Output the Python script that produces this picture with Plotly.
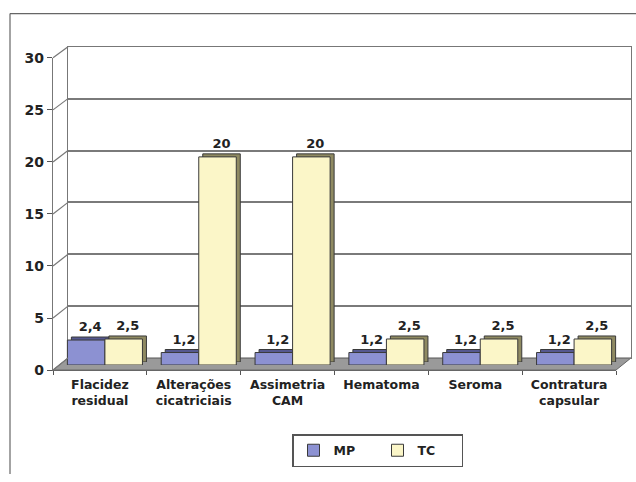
import plotly.graph_objects as go

categories = ["Flacidez<br>residual", "Alterações<br>cicatriciais", "Assimetria<br>CAM",
              "Hematoma", "Seroma", "Contratura<br>capsular"]
mp_values = [2.4, 1.2, 1.2, 1.2, 1.2, 1.2]
tc_values = [2.5, 20, 20, 2.5, 2.5, 2.5]
series_names = ["MP", "TC"]
y_ticks = [0, 5, 10, 15, 20, 25, 30]

W, H = 636, 482
# vertical correction measured from the rendered photo (page -> picture)
VOFF, VSCALE = 7.5, 0.96
def fx(p): return p / W
def fy(p): return 1 - ((p - VOFF) / VSCALE) / H

def fmt(v):
    return f"{v:g}".replace(".", ",")

FONT = "DejaVu Sans"
# front (tick) axis frame in reference px
FX0, FX1, FY0, FY1 = 53, 616, 367, 57
# wall frame
WX0, WX1, WY0, WY1 = 68, 631, 355, 46

MP_FRONT, MP_BACK = "#8c91d2", "#55588f"
TC_FRONT, TC_BACK = "#fbf6c8", "#8f8a62"
EDGE = "#3a3a3a"

fig = go.Figure()

# 1: wall subplot (gridlines)
fig.add_trace(go.Scatter(x=categories, y=mp_values, mode="markers", marker=dict(opacity=0),
                         hoverinfo="skip", showlegend=False, xaxis="x", yaxis="y"))
# 2: back faces of bars (depth), with value labels
for vals, col, nm in [(mp_values, MP_BACK, "MP"), (tc_values, TC_BACK, "TC")]:
    fig.add_trace(go.Bar(x=categories, y=vals, marker=dict(color=col, line=dict(color=EDGE, width=1)),
                         text=[fmt(v) for v in vals], textposition="outside", cliponaxis=False,
                         constraintext="none",
                         textfont=dict(family=FONT, size=13, color="#222", weight="bold"),
                         showlegend=False, hoverinfo="skip", xaxis="x2", yaxis="y2", name=nm))
# 3: front faces of bars
for vals, col, nm in [(mp_values, MP_FRONT, "MP"), (tc_values, TC_FRONT, "TC")]:
    fig.add_trace(go.Bar(x=categories, y=vals, name=nm,
                         marker=dict(color=col, line=dict(color=EDGE, width=1)),
                         xaxis="x3", yaxis="y3"))
# 4: tick axis helper
fig.add_trace(go.Scatter(x=categories, y=mp_values, mode="markers", marker=dict(opacity=0),
                         hoverinfo="skip", showlegend=False, xaxis="x4", yaxis="y4"))

common_x = dict(type="category", range=[-0.5, 5.5], fixedrange=True)
common_y = dict(range=[0, 30], fixedrange=True)

shapes = []
# floor
shapes.append(dict(type="path", xref="paper", yref="paper", layer="below",
                   path=f"M {fx(FX0)},{fy(FY0)} L {fx(FX1)},{fy(FY0)} L {fx(WX1)},{fy(WY0)} L {fx(WX0)},{fy(WY0)} Z",
                   fillcolor="#9a9a9a", line=dict(color="#666", width=1)))
# side wall diagonals
for v in y_ticks:
    yf = FY0 + (FY1 - FY0) * v / 30
    yw = WY0 + (WY1 - WY0) * v / 30
    shapes.append(dict(type="line", xref="paper", yref="paper",
                       x0=fx(FX0), y0=fy(yf), x1=fx(WX0), y1=fy(yw),
                       line=dict(color="#777", width=1.2)))
# outer frame
shapes.append(dict(type="line", xref="paper", yref="paper", x0=fx(10), y0=fy(13), x1=1, y1=fy(13),
                   line=dict(color="#666", width=1.2)))
shapes.append(dict(type="line", xref="paper", yref="paper", x0=fx(10), y0=fy(13), x1=fx(10), y1=0,
                   line=dict(color="#666", width=1.2)))

fig.update_layout(
    width=W, height=H, margin=dict(l=0, r=0, t=0, b=0),
    paper_bgcolor="white", plot_bgcolor="rgba(0,0,0,0)",
    barmode="group", bargap=0.2, bargroupgap=0,
    font=dict(family=FONT, color="#222"),
    shapes=shapes,
    xaxis=dict(common_x, domain=[fx(WX0), fx(WX1)], anchor="y", showticklabels=False,
               showgrid=False, showline=True, mirror=True, linecolor="#777", linewidth=1.2),
    yaxis=dict(common_y, domain=[fy(WY0), fy(WY1)], anchor="x", showticklabels=False,
               tickvals=y_ticks, showgrid=True, gridcolor="#7a7a7a", gridwidth=1.5,
               showline=True, mirror=True, linecolor="#777", linewidth=1.2, zeroline=False),
    xaxis2=dict(common_x, domain=[fx(FX0 + 9), fx(FX1 + 9)], anchor="y2", visible=False),
    yaxis2=dict(common_y, domain=[fy(FY0 - 8), fy(FY1 - 8)], anchor="x2", visible=False),
    xaxis3=dict(common_x, domain=[fx(FX0 + 5), fx(FX1 + 5)], anchor="y3", visible=False),
    yaxis3=dict(common_y, domain=[fy(FY0 - 5), fy(FY1 - 5)], anchor="x3", visible=False),
    xaxis4=dict(common_x, domain=[fx(FX0), fx(FX1)], anchor="y4", showgrid=False,
                showline=True, linecolor="#666", linewidth=1.2,
                ticks="outside", tickson="boundaries", ticklen=4, tickcolor="#555",
                ticklabelstandoff=3,
                tickfont=dict(family=FONT, size=12.5, color="#222", weight="bold")),
    yaxis4=dict(common_y, domain=[fy(FY0), fy(FY1)], anchor="x4", tickvals=y_ticks,
                showgrid=False, zeroline=False, showline=True, linecolor="#777", linewidth=1.2,
                ticks="outside", ticklen=5, tickcolor="#555",
                tickfont=dict(family=FONT, size=14, color="#222", weight="bold")),
    legend=dict(orientation="h", x=fx(292), xanchor="left", y=fy(447), yanchor="middle",
                bordercolor="#555", borderwidth=1.5, bgcolor="white",
                font=dict(family=FONT, size=12.5, color="#222", weight="bold"),
                entrywidth=39, entrywidthmode="pixels", itemwidth=30),
)

post = ("document.documentElement.style.margin='0';document.body.style.margin='0';"
        "document.body.style.overflow='hidden';"
        "var d=document.getElementById('{plot_id}');"
        "d.style.position='fixed';d.style.top='0px';d.style.left='0px';")

fig.write_html("out.html", config={"displayModeBar": False}, post_script=post)
